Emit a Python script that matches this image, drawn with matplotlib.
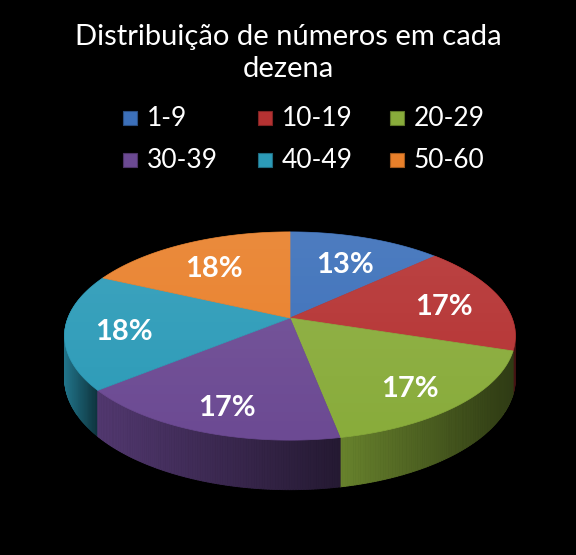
import numpy as np
import matplotlib
matplotlib.use("Agg")
import matplotlib.pyplot as plt
from matplotlib.patches import Polygon, Rectangle
from matplotlib.collections import PolyCollection
from matplotlib.colors import to_rgb

# ── Data ──────────────────────────────────────────────────────────────────────
categories = ["1-9", "10-19", "20-29", "30-39", "40-49", "50-60"]
shares     = [13, 17, 17, 17, 18, 18]
colors     = ["#3C70BA", "#B53232", "#89AC3B", "#6C4A93", "#2C9BB8", "#E9802A"]
title      = "Distribuição de números em cada\ndezena"

# ── Layout (pixels, y down) ───────────────────────────────────────────────────
W, H   = 576, 555
CX, CY = 290, 318      # pie centre on top face
RX, RY = 222, 101      # radii before perspective
K      = 0.173         # perspective strength
THICK  = 41            # side wall height
FONT   = "Lato"


def proj(theta, r=1.0, dz=0.0):
    """theta clockwise from 12 o'clock, returns screen (x, y)."""
    u = r * np.sin(theta)
    v = r * np.cos(theta)
    w = 1 + K * v
    return CX + RX * u / w, CY - RY * v / w + dz / w


fig = plt.figure(figsize=(W / 100, H / 100), dpi=100)
fig.patch.set_facecolor("black")
ax = fig.add_axes([0, 0, 1, 1])
ax.set_xlim(0, W)
ax.set_ylim(H, 0)
ax.axis("off")
ax.set_facecolor("black")

fracs = np.array(shares, dtype=float) / sum(shares)
edges = np.concatenate([[0], np.cumsum(fracs)]) * 2 * np.pi

# ── Side walls ────────────────────────────────────────────────────────────────
quads, qcols, qdepth = [], [], []
for i, col in enumerate(colors):
    a0, a1 = edges[i], edges[i + 1]
    n = max(int((a1 - a0) / 0.01), 2)
    ts = np.linspace(a0, a1, n + 1)
    xs, _ = proj(ts)
    vis = np.cos(ts) < 0.2
    if vis.sum() < 2:
        continue
    xmin, xmax = xs[vis].min(), xs[vis].max()
    base = np.array(to_rgb(col))
    for t0, t1 in zip(ts[:-1], ts[1:]):
        x0, y0 = proj(t0)
        x1, y1 = proj(t1)
        x0b, y0b = proj(t0, dz=THICK)
        x1b, y1b = proj(t1, dz=THICK)
        quads.append([(x0, y0), (x1, y1), (x1b, y1b), (x0b, y0b)])
        f = 0.0 if xmax == xmin else np.clip((0.5 * (x0 + x1) - xmin) / (xmax - xmin), 0, 1)
        shade = 0.76 - 0.42 * f
        qcols.append(tuple(base * shade))
        qdepth.append(np.cos(0.5 * (t0 + t1)))

order = np.argsort(qdepth)[::-1]
ax.add_collection(PolyCollection([quads[j] for j in order],
                                 facecolors=[qcols[j] for j in order],
                                 edgecolors=[qcols[j] for j in order],
                                 linewidths=0.6, zorder=2))

# ── Top faces ─────────────────────────────────────────────────────────────────
rim_t = np.linspace(0, 2 * np.pi, 400)
rim = np.column_stack(proj(rim_t))
for i, col in enumerate(colors):
    ts = np.linspace(edges[i], edges[i + 1], 120)
    px, py = proj(ts)
    pts = np.vstack([[proj(0, r=0)], np.column_stack([px, py])])
    ax.add_patch(Polygon(pts, closed=True, facecolor=col, edgecolor=col,
                         linewidth=0.5, zorder=3))

# soft light from above on the top face
grad = np.linspace(1, 0, 256)[:, None]
light = np.zeros((256, 1, 4))
light[..., :3] = 1.0
light[..., 3] = 0.09 * grad
clip = Polygon(rim, closed=True, transform=ax.transData, facecolor="none", edgecolor="none")
ax.add_patch(clip)
img = ax.imshow(light, extent=(CX - RX - 10, CX + RX + 10, rim[:, 1].max(), rim[:, 1].min()),
                aspect="auto", zorder=4, interpolation="bilinear")
img.set_clip_path(clip)
ax.set_xlim(0, W)
ax.set_ylim(H, 0)

# ── Percentage labels ─────────────────────────────────────────────────────────
for i, s in enumerate(shares):
    mid = 0.5 * (edges[i] + edges[i + 1])
    lx, _ = proj(mid, r=0.74)
    _, ly = proj(mid, r=0.68)
    ly += 4 + 14 * max(0.0, -np.cos(mid))
    lx -= 8 * np.sin(mid) * max(0.0, np.cos(mid))
    ax.text(lx, ly, f"{s}%", color="white", fontsize=21, fontweight="bold",
            family=FONT, ha="center", va="center", zorder=6)

# ── Title ─────────────────────────────────────────────────────────────────────
ax.text(288, 53, title, color="white", fontsize=21, family=FONT,
        ha="center", va="center", linespacing=1.32, zorder=6)

# ── Legend ────────────────────────────────────────────────────────────────────
col_x = [123, 258, 390]
row_y = [118, 160]
for i, (cat, col) in enumerate(zip(categories, colors)):
    x = col_x[i % 3]
    y = row_y[i // 3]
    ax.add_patch(Rectangle((x, y - 7), 14, 14, facecolor=col,
                           edgecolor=tuple(np.array(to_rgb(col)) * 0.7),
                           linewidth=0.8, zorder=6))
    ax.text(x + 24, y, cat, color="white", fontsize=19, family=FONT,
            ha="left", va="center", zorder=6)

fig.savefig("out.png", dpi=100, facecolor="black")
